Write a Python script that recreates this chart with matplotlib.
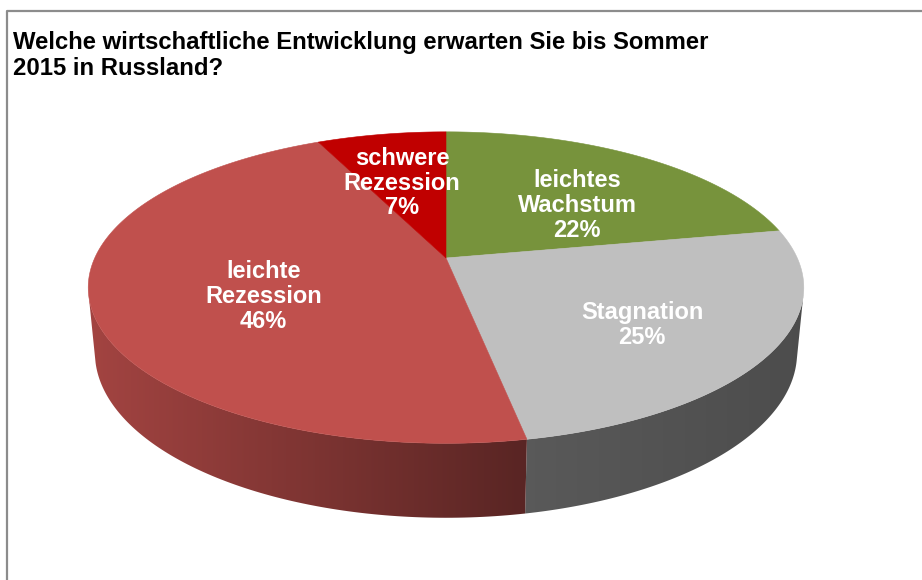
import numpy as np
import matplotlib
matplotlib.use("Agg")
import matplotlib.pyplot as plt
from matplotlib.patches import Polygon

# survey answers, clockwise from 12 o'clock
labels = ["leichtes\nWachstum", "Stagnation", "leichte\nRezession", "schwere\nRezession"]
shares = [22, 25, 46, 7]
colors = ["#77933C", "#BFBFBF", "#C0504D", "#C00000"]
title = "Welche wirtschaftliche Entwicklung erwarten Sie bis Sommer\n2015 in Russland?"

# camera for the tilted pie (pixel space)
cx, cy = 446, 258
elev = np.radians(25.3)
dist = 4.76
focal = 1672
thick = 0.205
lab_r = [0.64, 0.63, 0.53, 0.64]
lab_dy = [15, 10, 13, 9]


def project(theta, rad, z):
    x = rad * np.sin(theta)
    y = rad * np.cos(theta)
    depth = y * np.cos(elev) + dist - z * np.sin(elev)
    v = y * np.sin(elev) + z * np.cos(elev)
    return cx + focal * x / depth, cy - focal * v / depth


def shade(px):
    xn = (px - cx) / 358.0
    return np.interp(xn, [-1.0, 0.2, 1.0], [0.85, 0.47, 0.40])


fig = plt.figure(figsize=(9.22, 5.80), dpi=100)
ax = fig.add_axes([0, 0, 1, 1])
ax.set_xlim(0, 922)
ax.set_ylim(580, 0)
ax.axis("off")

# chart frame
ax.plot([7, 7, 922], [580, 10.5, 10.5], color="#8C8C8C", lw=1.6, solid_capstyle="butt")

fracs = np.array(shares, dtype=float) / sum(shares)
edges = np.concatenate([[0], np.cumsum(fracs)]) * 2 * np.pi

# gradient grid used for the side walls
gx = np.linspace(0, 922, 923)
fac = shade(gx)

for i in range(len(shares)):
    t = np.linspace(edges[i], edges[i + 1], 200)
    # visible outer wall: faces the camera when y < -1/(dist*cos(elev))
    vis = np.cos(t) < -1.0 / (dist * np.cos(elev))
    if vis.sum() < 2:
        continue
    tv = t[vis]
    tx, ty = project(tv, 1.0, 0.0)
    bx, by = project(tv[::-1], 1.0, -thick)
    wall = Polygon(np.column_stack([np.r_[tx, bx], np.r_[ty, by]]),
                   closed=True, facecolor="none", edgecolor="none")
    ax.add_patch(wall)
    rgb = np.array(matplotlib.colors.to_rgb(colors[i]))
    img = (fac[None, :, None] * rgb[None, None, :]).repeat(2, axis=0)
    im = ax.imshow(img, extent=[0, 922, 580, 0], aspect="auto",
                   interpolation="bilinear", zorder=2)
    im.set_clip_path(wall)

# top face
for i in range(len(shares)):
    t = np.linspace(edges[i], edges[i + 1], 200)
    ex, ey = project(t, 1.0, 0.0)
    pts = np.column_stack([np.r_[cx, ex], np.r_[cy, ey]])
    ax.add_patch(Polygon(pts, closed=True, facecolor=colors[i],
                         edgecolor=colors[i], lw=0.4, zorder=3))

# data labels
for i in range(len(shares)):
    mid = (edges[i] + edges[i + 1]) / 2
    lx, ly = project(mid, lab_r[i], 0.0)
    ax.text(lx, ly + lab_dy[i], f"{labels[i]}\n{shares[i]}%", ha="center", va="center",
            color="white", fontsize=17, fontweight="bold",
            family="Liberation Sans", linespacing=1.1, zorder=4)

ax.text(13, 31, title, ha="left", va="top", fontsize=17.2, fontweight="bold",
        family="Liberation Sans", linespacing=1.17, color="black")

fig.savefig("out.png", dpi=100)
